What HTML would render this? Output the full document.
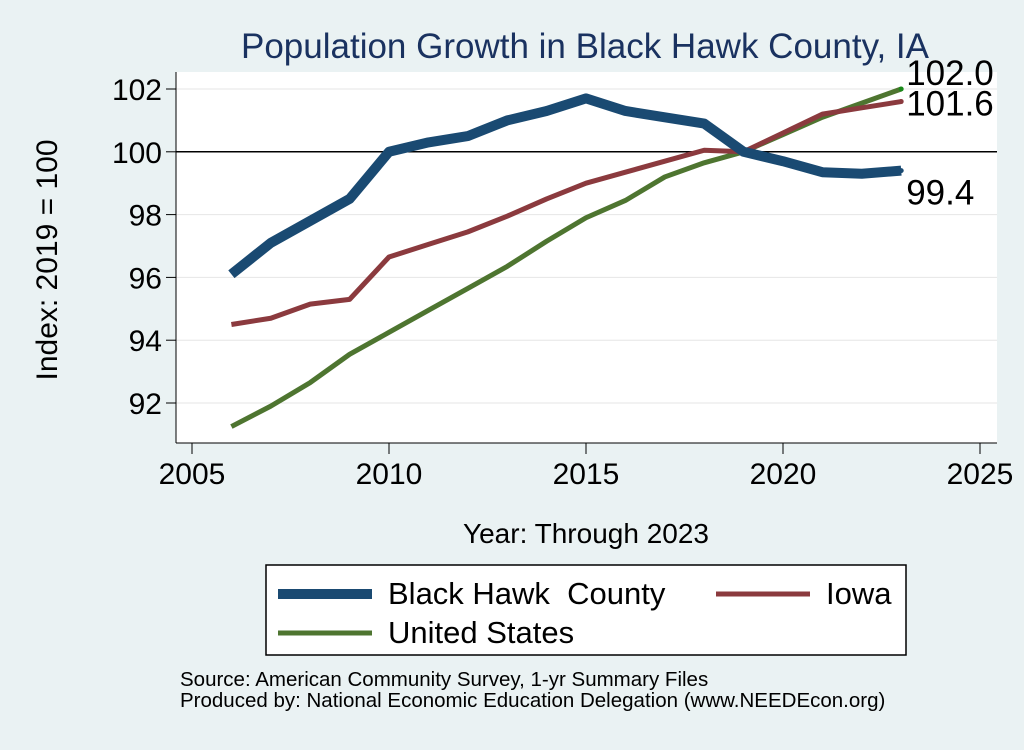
<!DOCTYPE html>
<html><head><meta charset="utf-8"><style>
body{margin:0;background:#eaf2f3;}
svg text{font-family:"Liberation Sans",sans-serif;white-space:pre;}
</style></head><body>
<svg id="c" width="1024" height="745" xmlns="http://www.w3.org/2000/svg">
<rect x="0" y="0" width="1024" height="745" fill="#eaf2f3"/>
<rect x="176" y="72" width="821" height="371" fill="#ffffff"/>
<text x="585" y="58" font-size="35" fill="#1a3260" text-anchor="middle">Population Growth in Black Hawk County, IA</text>
<g id="grid"></g><g id="axes"></g><g id="series"></g><g id="labels"></g>
<text x="586" y="543" font-size="28" text-anchor="middle">Year: Through 2023</text>
<text transform="translate(57,260) rotate(-90)" font-size="30" text-anchor="middle">Index: 2019 = 100</text>
<g>
<rect x="266" y="565" width="640" height="90" fill="#fff" stroke="#000" stroke-width="1.5"/>
<line x1="278" y1="594" x2="372" y2="594" stroke="#1a4a72" stroke-width="10"/>
<text x="388" y="604" font-size="31">Black Hawk  County</text>
<line x1="716" y1="594" x2="810" y2="594" stroke="#8b3a3e" stroke-width="5"/>
<text x="826" y="604" font-size="31">Iowa</text>
<line x1="278" y1="633" x2="372" y2="633" stroke="#4e7530" stroke-width="5"/>
<text x="388" y="643" font-size="31">United States</text>
</g>
<text x="180" y="686" font-size="20.5">Source: American Community Survey, 1-yr Summary Files</text>
<text x="180" y="707" font-size="20.5">Produced by: National Economic Education Delegation (www.NEEDEcon.org)</text>
</svg>
<script>
const years=[2006,2007,2008,2009,2010,2011,2012,2013,2014,2015,2016,2017,2018,2019,2020,2021,2022,2023];
const bhc=[96.1,97.1,97.8,98.5,100.0,100.3,100.5,101.0,101.3,101.7,101.3,101.1,100.9,100.0,99.7,99.35,99.3,99.4];
const iowa=[94.5,94.7,95.15,95.3,96.65,97.05,97.45,97.95,98.5,99.0,99.35,99.7,100.05,100.0,100.6,101.2,101.4,101.6];
const us=[91.25,91.9,92.65,93.55,94.25,94.95,95.65,96.35,97.15,97.9,98.45,99.2,99.65,100.0,100.55,101.1,101.55,102.0];
const xTicks=[2005,2010,2015,2020,2025];
const yTicks=[92,94,96,98,100,102];
const NS="http://www.w3.org/2000/svg";
const X=v=>192+(v-2005)*39.4;
const Y=v=>89+(102-v)*31.4;
function mk(t,a,p){const e=document.createElementNS(NS,t);for(const k in a)e.setAttribute(k,a[k]);p.appendChild(e);return e;}
const grid=document.getElementById('grid'),axes=document.getElementById('axes'),ser=document.getElementById('series'),lab=document.getElementById('labels');
yTicks.forEach(t=>{
 const g=mk('line',{x1:176,x2:997,y1:Y(t),y2:Y(t),stroke:t===100?'#000':'#e6e6e6','stroke-width':t===100?1.5:1},grid);
 
 
 const tk=mk('line',{x1:166,x2:176,y1:Y(t),y2:Y(t),stroke:'#000'},axes);
 
 
 const tx=mk('text',{x:162,y:Y(t)+11,'font-size':30,'text-anchor':'end'},axes);tx.textContent=t;
 
 
});
xTicks.forEach(t=>{
 const tk=mk('line',{x1:X(t),x2:X(t),y1:443,y2:454,stroke:'#000'},axes);
 
 
 const tx=mk('text',{x:X(t),y:484,'font-size':30,'text-anchor':'middle'},axes);tx.textContent=t;
 
 
});
const ya=mk('line',{x1:176,x2:176,y1:72,y2:443,stroke:'#000'},axes);


const xa=mk('line',{x1:176,x2:997,y1:443,y2:443,stroke:'#000'},axes);


function line(vals,col,w,name){
 const p=mk('polyline',{points:vals.map((v,i)=>X(years[i])+','+Y(v)).join(' '),fill:'none',stroke:col,'stroke-width':w,'stroke-linejoin':'round'},ser);
 
 
}
line(us,'#4e7530',5,'line-united-states');
line(iowa,'#8b3a3e',5,'line-iowa');
line(bhc,'#1a4a72',10,'line-black-hawk-county');
const last=years.length-1;
[[us,'#4e7530','label-us-end',-4],[iowa,'#8b3a3e','label-iowa-end',14],[bhc,'#1a4a72','label-bhc-end',34]].forEach(([s,c,n,dy])=>{
 const yy=Y(s[last]);
 const d=mk('circle',{cx:X(years[last]),cy:yy,r:2.5,fill:n==='label-us-end'?'#1a8a1a':c},lab);
 
 
 const t=mk('text',{x:X(years[last])+5,y:yy+dy,'font-size':35},lab);
 t.textContent=s[last].toFixed(1);
 
 
});
</script>
</body></html>
